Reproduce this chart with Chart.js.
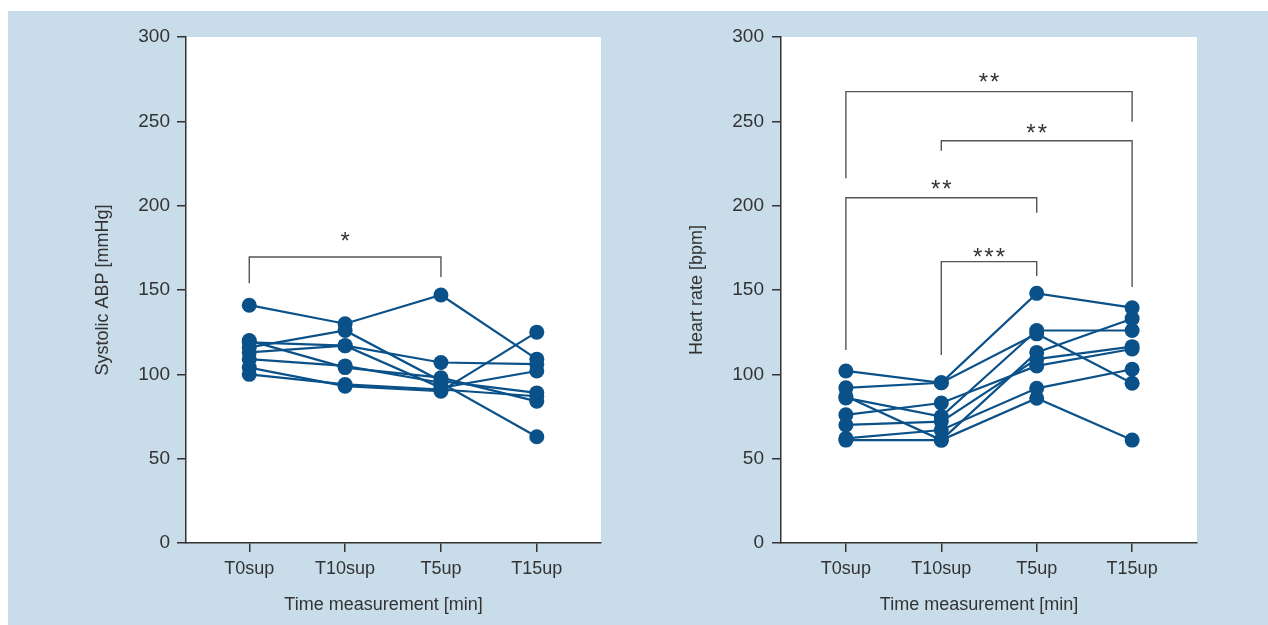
<!DOCTYPE html>
<html>
<head>
<meta charset="utf-8">
<script src="https://cdn.jsdelivr.net/npm/chart.js@4.4.1/dist/chart.umd.min.js"></script>
<style>
html, body { margin:0; padding:0; background:#fff; }
#panel { position:absolute; left:8px; top:11px; width:1260px; height:614px; background:#c9dcea; }
#abp { position:absolute; left:0; top:0; width:632px; height:614px; }
#hr { position:absolute; left:632px; top:0; width:628px; height:614px; }
</style>
</head>
<body>
<div id="panel">
    <canvas id="abp" width="632" height="614"></canvas>
    <canvas id="hr" width="628" height="614"></canvas>
</div>
<script>
/**
 * Systolic ABP / heart rate per subject over time
 */
var categories = ["T0sup", "T10sup", "T5up", "T15up"];

// one row per subject, values in category order
var abpSubjects = [
    [141, 130, 147, 109],
    [116, 126, 96, 89],
    [120, 104, 98, 84],
    [119, 117, 107, 106],
    [113, 117, 92, 102],
    [109, 105, 95, 63],
    [104, 93, 90, 125],
    [100, 94, 91, 87]
];
var hrSubjects = [
    [102, 95, 148, 139.5],
    [92, 95, 124, 94.7],
    [87, 61, 113, 133],
    [86, 75, 126, 126],
    [76, 83, 105, 115],
    [70, 72, 109, 116.4],
    [62, 67, 91.7, 103],
    [61, 61, 85.8, 61]
];

// significance brackets: category indices, bar level, leg ends, label
var abpBrackets = [
    {from:0, to:2, top:169.6, endFrom:154, endTo:157.7, label:"*", labelAt:182.6}
];
var hrBrackets = [
    {from:0, to:3, top:267.6, endFrom:216.2, endTo:249.8, label:"**", labelAt:277},
    {from:1, to:3, top:238.5, endFrom:232.6, endTo:151.8, label:"**", labelAt:246.8},
    {from:0, to:2, top:204.7, endFrom:114.4, endTo:195.8, label:"**", labelAt:213.6},
    {from:1, to:2, top:166.8, endFrom:111.5, endTo:158.3, label:"***", labelAt:173.3}
];

var blue = "#0b5189";
var ink = "#333333";

var bracketPlugin = {
    id: "brackets",
    beforeDraw: function(chart){
        // white plot area on the blue panel
        var a = chart.chartArea, ctx = chart.ctx;
        ctx.save();
        ctx.fillStyle = "#ffffff";
        ctx.fillRect(a.left, a.top, a.right - a.left, a.bottom - a.top);
        ctx.restore();
    },
    beforeDatasetsDraw: function(chart, args, opts){
        var ctx = chart.ctx, xs = chart.scales.x, ys = chart.scales.y;
        ctx.save();
        (opts.items || []).forEach(function(b){
            var x1 = xs.getPixelForValue(b.from), x2 = xs.getPixelForValue(b.to);
            var yt = ys.getPixelForValue(b.top);
            ctx.strokeStyle = "#555555";
            ctx.lineWidth = 1.4;
            ctx.beginPath();
            ctx.moveTo(x1, ys.getPixelForValue(b.endFrom));
            ctx.lineTo(x1, yt);
            ctx.lineTo(x2, yt);
            ctx.lineTo(x2, ys.getPixelForValue(b.endTo));
            ctx.stroke();
            ctx.fillStyle = ink;
            ctx.font = "24px 'Liberation Sans', Arial, sans-serif";
            ctx.letterSpacing = "2px";
            ctx.textAlign = "center";
            ctx.textBaseline = "alphabetic";
            ctx.fillText(b.label, (x1 + x2) / 2 + 1, ys.getPixelForValue(b.labelAt) + 14);
        });
        ctx.restore();
    }
};

function makeDatasets(subjects){
    return subjects.map(function(row, idx){
        return {
            label: "S" + (idx + 1),
            data: row.map(function(v, i){ return {x: i, y: v}; }),
            borderColor: blue,
            backgroundColor: blue,
            borderWidth: 2.2,
            pointRadius: 7.5,
            pointBorderWidth: 0,
            pointBackgroundColor: blue,
            tension: 0
        };
    });
}

function makeChart(el, subjects, brackets, yTitle, cfg){
    return new Chart(el, {
        type: "line",
        data: { datasets: makeDatasets(subjects) },
        plugins: [bracketPlugin],
        options: {
            responsive: false,
            animation: false,
            layout: { padding: { left: 0, top: 26, right: cfg.padRight, bottom: 0 } },
            plugins: {
                legend: { display: false },
                tooltip: { enabled: false },
                brackets: { items: brackets }
            },
            scales: {
                x: {
                    type: "linear",
                    min: cfg.xMin,
                    max: cfg.xMax,
                    afterFit: function(s){ s.height = 82; },
                    afterBuildTicks: function(s){
                        s.ticks = categories.map(function(c, i){ return {value: i}; });
                    },
                    ticks: {
                        callback: function(v){ return categories[v]; },
                        color: ink,
                        font: { family: "'Liberation Sans', Arial, sans-serif", size: 18 },
                        padding: 6,
                        maxRotation: 0,
                        autoSkip: false
                    },
                    grid: { drawOnChartArea: false, tickLength: 9, color: ink, lineWidth: 1.5 },
                    border: { color: ink, width: 1.5 },
                    title: {
                        display: true,
                        text: "Time measurement [min]\u00a0\u00a0\u00a0\u00a0",
                        color: ink,
                        font: { family: "'Liberation Sans', Arial, sans-serif", size: 18 },
                        padding: { top: 0, bottom: 9 }
                    }
                },
                y: {
                    min: 0,
                    max: 300,
                    afterFit: function(s){ s.width = cfg.yWidth; },
                    ticks: {
                        stepSize: 50,
                        color: ink,
                        font: { family: "'Liberation Sans', Arial, sans-serif", size: 19 },
                        padding: cfg.tickPad
                    },
                    grid: { drawOnChartArea: false, tickLength: 9, color: ink, lineWidth: 1.5 },
                    border: { color: ink, width: 1.5 },
                    title: {
                        display: true,
                        text: yTitle,
                        color: ink,
                        font: { family: "'Liberation Sans', Arial, sans-serif", size: 18 },
                        padding: { top: cfg.titlePad, bottom: 0 }
                    }
                }
            }
        }
    });
}

var abpChart = makeChart(document.getElementById("abp"), abpSubjects, abpBrackets, "Systolic ABP [mmHg]",
    { padRight: 39, yWidth: 178, xMin: -0.66, xMax: 3.67, tickPad: 7, titlePad: 84 });
var hrChart = makeChart(document.getElementById("hr"), hrSubjects, hrBrackets, "Heart rate [bpm]",
    { padRight: 71, yWidth: 141, xMin: -0.68, xMax: 3.68, tickPad: 8, titlePad: 46 });
</script>
</body>
</html>
